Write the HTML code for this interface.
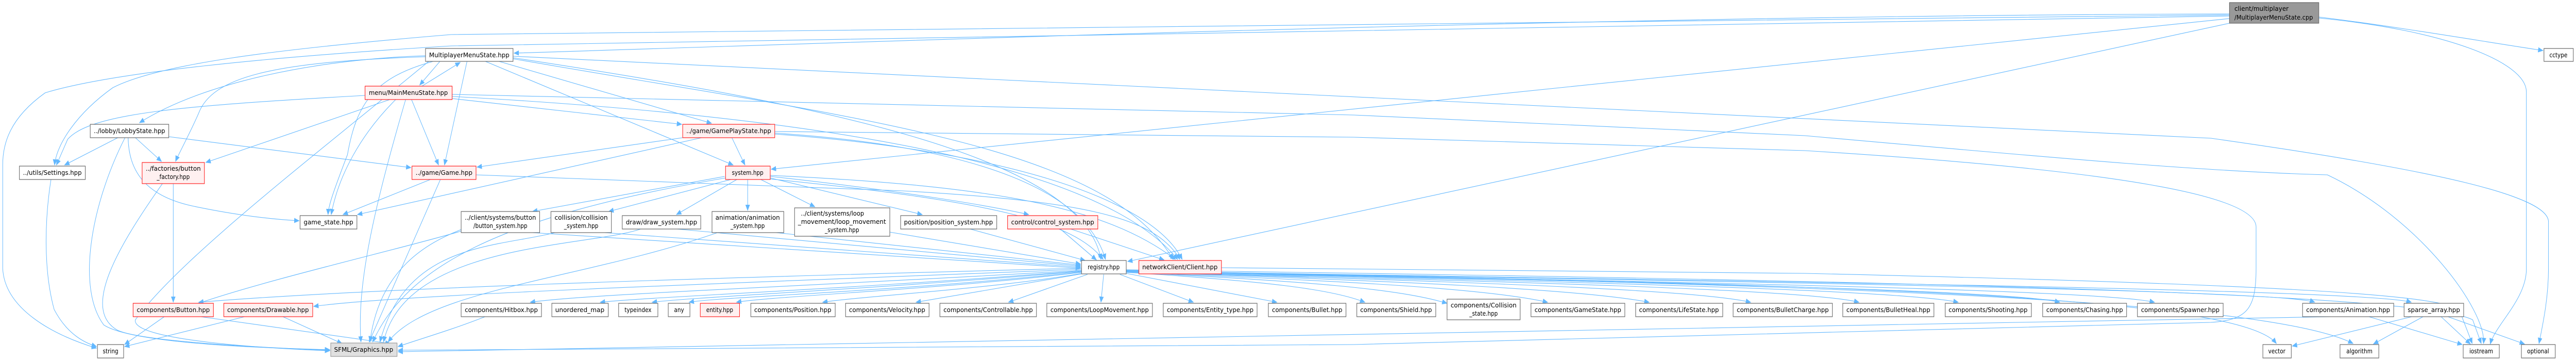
<!DOCTYPE html>
<html><head><meta charset="utf-8"><style>
html,body{margin:0;padding:0;background:#fff;overflow:hidden;width:100%;height:696px}
svg{display:block;width:100vw;height:696px}
text{font-family:"DejaVu Sans","Liberation Sans",sans-serif;font-size:12px;fill:#000}
.e{fill:none;stroke:#63b8ff;stroke-width:1.1}
.n{fill:#fff;stroke:#666;stroke-width:1.2}
.r{fill:#fff0f0;stroke:#ff2020;stroke-width:1.2}
.g{fill:#e0e0e0;stroke:#999;stroke-width:1.2}
.root{fill:#999;stroke:#666;stroke-width:1.2}
</style></head><body>
<svg viewBox="0 0 5709 696" preserveAspectRatio="none" xmlns="http://www.w3.org/2000/svg">
<defs><marker id="a" markerWidth="12" markerHeight="10" refX="11" refY="5" orient="auto" markerUnits="userSpaceOnUse"><path d="M0,0 L12,5 L0,10 z" fill="#63b8ff"/></marker></defs>
<g class="e" marker-end="url(#a)">
<path d="M4941,27 C3500,30 2000,80 1139,103"/>
<path d="M4941,29 L1000,67 C600,96 350,125 250,170 C170,220 125,280 121,320"/>
<path d="M4941,31 L1000,89 C600,110 250,140 100,180 C20,230 6,280 6,320 L6,520 C10,600 120,650 214,675"/>
<path d="M4941,45 L2499,507"/>
<path d="M4941,36 L1709,328"/>
<path d="M5139,33 C5300,50 5500,80 5636,98"/>
<path d="M5139,35 C5416,58 5599,120 5599,178 L5599,522 C5599,580 5530,630 5519,667"/>
<path d="M1137,109 L4900,268 C5400,330 5648,380 5648,430 L5648,520 C5648,580 5635,630 5627,666"/>
<path d="M943,108 C700,115 450,160 309,238"/>
<path d="M943,110 C600,120 470,150 440,220 C420,260 395,300 389,313"/>
<path d="M960,119 C830,150 790,200 770,300 C735,380 728,400 727,416"/>
<path d="M950,119 C700,300 400,500 300,620 C290,660 600,676 731,680"/>
<path d="M975,119 L930,165"/>
<path d="M935,167 L1020,121"/>
<path d="M1035,119 L985,320"/>
<path d="M1102,118 L1577,239"/>
<path d="M1073,118 L1625,320"/>
<path d="M1137,112 C1800,200 2400,300 2440,503"/>
<path d="M1137,114 C1900,230 2450,280 2600,503"/>
<path d="M1002,183 L3000,223 L4000,263 C4600,310 4900,333 5158,339 C5364,424 5511,603 5504,666"/>
<path d="M809,185 C400,205 200,220 150,270 L125,320"/>
<path d="M864,193 L456,315"/>
<path d="M877,193 C800,260 750,340 734,416"/>
<path d="M899,193 C830,400 790,550 800,663"/>
<path d="M912,193 L972,320"/>
<path d="M1002,191 L1511,241"/>
<path d="M1002,187 C1900,230 2450,330 2610,503"/>
<path d="M261,267 L143,320"/>
<path d="M300,267 L358,313"/>
<path d="M284,267 C285,330 320,380 430,400 C540,420 620,426 663,428"/>
<path d="M277,267 C200,400 170,560 230,630 C300,670 650,676 731,678"/>
<path d="M374,265 L911,325"/>
<path d="M384,356 L384,586"/>
<path d="M360,356 C260,480 180,600 260,640 C320,665 650,676 731,679"/>
<path d="M113,348 C100,420 95,520 120,600 C150,650 190,665 214,672"/>
<path d="M954,348 L760,416"/>
<path d="M976,348 L818,663"/>
<path d="M1055,339 L2000,370 C2400,390 2560,420 2615,503"/>
<path d="M1513,267 L1057,324"/>
<path d="M1555,267 L792,416"/>
<path d="M1622,267 L1651,320"/>
<path d="M1717,255 L3000,266 L4000,292 C4700,330 5000,380 5000,440 L5000,520 C5000,600 4980,620 4900,625 L3000,668 L882,679"/>
<path d="M1717,258 C2100,280 2400,350 2450,503"/>
<path d="M1717,260 C2200,290 2550,380 2620,503"/>
<path d="M1606,342 L1180,410"/>
<path d="M1620,348 L1349,410"/>
<path d="M1633,348 L1499,416"/>
<path d="M1657,348 L1657,408"/>
<path d="M1686,348 L1806,401"/>
<path d="M1707,345 L2044,416"/>
<path d="M1707,342 C2000,370 2200,400 2280,416"/>
<path d="M1707,347 C2200,390 2380,430 2445,503"/>
<path d="M1707,340 C2200,360 2450,400 2605,503"/>
<path d="M1608,345 C1100,420 900,520 826,663"/>
<path d="M1022,445 C950,470 840,520 820,663"/>
<path d="M1022,448 C900,480 600,540 440,588"/>
<path d="M1180,451 L2395,520"/>
<path d="M1230,451 C1100,480 900,470 842,663"/>
<path d="M1340,451 L2395,518"/>
<path d="M1420,444 C1300,480 900,470 850,663"/>
<path d="M1500,444 L2395,516"/>
<path d="M1590,451 C1300,540 950,560 860,663"/>
<path d="M1720,451 L2395,514"/>
<path d="M1972,450 L2395,512"/>
<path d="M2150,444 L2405,505"/>
<path d="M2350,444 L2430,504"/>
<path d="M2373,444 L2580,504"/>
<path d="M2397,520 C1500,540 800,560 440,586"/>
<path d="M2397,522 C1600,550 900,570 695,594"/>
<path d="M2397,524 C1800,555 1300,570 1175,586"/>
<path d="M2397,525 C1900,560 1450,575 1330,586"/>
<path d="M2397,526 C1950,560 1550,575 1445,586"/>
<path d="M2397,527 C2000,565 1600,575 1527,586"/>
<path d="M2397,528 C2100,560 1700,575 1632,586"/>
<path d="M2397,530 C2200,560 1900,575 1823,586"/>
<path d="M2397,531 L2030,586"/>
<path d="M2410,532 L2235,586"/>
<path d="M2446,532 L2440,586"/>
<path d="M2482,532 L2645,586"/>
<path d="M2496,530 L2830,586"/>
<path d="M2496,528 C2800,545 2950,560 3025,586"/>
<path d="M2496,528 C2900,545 3100,560 3207,588"/>
<path d="M2496,528 C3000,545 3300,560 3430,586"/>
<path d="M2496,527 C3100,545 3500,560 3655,586"/>
<path d="M2496,527 C3200,545 3750,560 3880,586"/>
<path d="M2496,527 C3300,545 4000,560 4120,586"/>
<path d="M2496,526 C3400,545 4200,560 4340,586"/>
<path d="M2496,526 C3500,545 4450,560 4565,586"/>
<path d="M2496,526 C3600,545 4650,560 4775,586"/>
<path d="M2496,525 C3700,545 5050,560 5130,586"/>
<path d="M2496,525 C3800,545 5250,560 5344,586"/>
<path d="M2496,524 C3800,550 4950,560 5045,666"/>
<path d="M2496,524 C3800,550 5000,570 5215,666"/>
<path d="M2496,523 C3800,540 5350,560 5480,620 L5499,666"/>
<path d="M2707,519 L4000,530 C5000,550 5400,570 5450,600 L5479,666"/>
<path d="M1075,614 C1000,640 920,660 882,672"/>
<path d="M445,614 L865,666"/>
<path d="M364,614 L276,668"/>
<path d="M542,614 L276,672"/>
<path d="M627,614 L758,666"/>
<path d="M5165,614 C5000,625 3000,650 882,682"/>
<path d="M5250,614 L5457,668"/>
<path d="M5345,614 L5080,671"/>
<path d="M5370,614 L5260,667"/>
<path d="M5410,614 L5475,667"/>
<path d="M5425,614 L5595,667"/>
</g>
<g>
<rect class="root" x="4941" y="5" width="198" height="40"/><text x="4952" y="21" textLength="120" lengthAdjust="spacingAndGlyphs">client/multiplayer</text><text x="4952" y="38" textLength="174" lengthAdjust="spacingAndGlyphs">/MultiplayerMenuState.cpp</text>
<rect class="n" x="943" y="94" width="194" height="25"/><text x="1040" y="111" text-anchor="middle" textLength="178" lengthAdjust="spacingAndGlyphs">MultiplayerMenuState.hpp</text>
<rect class="n" x="5638" y="94" width="65" height="25"/><text x="5670" y="111" text-anchor="middle">cctype</text>
<rect class="r" x="809" y="167" width="193" height="26"/><text x="905" y="184" text-anchor="middle" textLength="175" lengthAdjust="spacingAndGlyphs">menu/MainMenuState.hpp</text>
<rect class="n" x="200" y="241" width="174" height="26"/><text x="287" y="258" text-anchor="middle" textLength="158" lengthAdjust="spacingAndGlyphs">../lobby/LobbyState.hpp</text>
<rect class="r" x="1513" y="241" width="204" height="26"/><text x="1615" y="258" text-anchor="middle" textLength="188" lengthAdjust="spacingAndGlyphs">../game/GamePlayState.hpp</text>
<rect class="n" x="43" y="322" width="146" height="26"/><text x="116" y="339" text-anchor="middle" textLength="130" lengthAdjust="spacingAndGlyphs">../utils/Settings.hpp</text>
<rect class="r" x="315" y="315" width="138" height="41"/><text x="384" y="331" text-anchor="middle" textLength="122" lengthAdjust="spacingAndGlyphs">../factories/button</text><text x="384" y="347" text-anchor="middle">_factory.hpp</text>
<rect class="r" x="913" y="322" width="142" height="26"/><text x="984" y="339" text-anchor="middle" textLength="126" lengthAdjust="spacingAndGlyphs">../game/Game.hpp</text>
<rect class="r" x="1608" y="322" width="99" height="26"/><text x="1657" y="339" text-anchor="middle">system.hpp</text>
<rect class="n" x="665" y="418" width="126" height="26"/><text x="728" y="435" text-anchor="middle" textLength="110" lengthAdjust="spacingAndGlyphs">game_state.hpp</text>
<rect class="n" x="1022" y="410" width="174" height="41"/><text x="1109" y="426" text-anchor="middle" textLength="158" lengthAdjust="spacingAndGlyphs">../client/systems/button</text><text x="1109" y="442" text-anchor="middle">/button_system.hpp</text>
<rect class="n" x="1221" y="410" width="134" height="41"/><text x="1288" y="426" text-anchor="middle" textLength="118" lengthAdjust="spacingAndGlyphs">collision/collision</text><text x="1288" y="442" text-anchor="middle">_system.hpp</text>
<rect class="n" x="1379" y="418" width="174" height="26"/><text x="1466" y="435" text-anchor="middle" textLength="158" lengthAdjust="spacingAndGlyphs">draw/draw_system.hpp</text>
<rect class="n" x="1578" y="410" width="159" height="41"/><text x="1657" y="426" text-anchor="middle" textLength="143" lengthAdjust="spacingAndGlyphs">animation/animation</text><text x="1657" y="442" text-anchor="middle">_system.hpp</text>
<rect class="n" x="1761" y="403" width="211" height="55"/><text x="1775" y="418" textLength="140" lengthAdjust="spacingAndGlyphs">../client/systems/loop</text><text x="1866" y="434" text-anchor="middle" textLength="195" lengthAdjust="spacingAndGlyphs">_movement/loop_movement</text><text x="1866" y="450" text-anchor="middle">_system.hpp</text>
<rect class="n" x="1996" y="418" width="213" height="26"/><text x="2102" y="435" text-anchor="middle" textLength="197" lengthAdjust="spacingAndGlyphs">position/position_system.hpp</text>
<rect class="r" x="2233" y="418" width="200" height="26"/><text x="2333" y="435" text-anchor="middle" textLength="184" lengthAdjust="spacingAndGlyphs">control/control_system.hpp</text>
<rect class="n" x="2397" y="505" width="99" height="26"/><text x="2446" y="522" text-anchor="middle">registry.hpp</text>
<rect class="r" x="2524" y="505" width="183" height="26"/><text x="2615" y="522" text-anchor="middle" textLength="167" lengthAdjust="spacingAndGlyphs">networkClient/Client.hpp</text>
<rect class="r" x="295" y="588" width="178" height="26"/><text x="384" y="605" text-anchor="middle" textLength="162" lengthAdjust="spacingAndGlyphs">components/Button.hpp</text>
<rect class="r" x="496" y="588" width="197" height="26"/><text x="594" y="605" text-anchor="middle" textLength="181" lengthAdjust="spacingAndGlyphs">components/Drawable.hpp</text>
<rect class="n" x="1022" y="588" width="178" height="26"/><text x="1111" y="605" text-anchor="middle" textLength="162" lengthAdjust="spacingAndGlyphs">components/Hitbox.hpp</text>
<rect class="n" x="1223" y="588" width="125" height="26"/><text x="1285" y="605" text-anchor="middle" textLength="109" lengthAdjust="spacingAndGlyphs">unordered_map</text>
<rect class="n" x="1371" y="588" width="87" height="26"/><text x="1414" y="605" text-anchor="middle">typeindex</text>
<rect class="n" x="1481" y="588" width="48" height="26"/><text x="1505" y="605" text-anchor="middle">any</text>
<rect class="r" x="1552" y="588" width="87" height="26"/><text x="1595" y="605" text-anchor="middle">entity.hpp</text>
<rect class="n" x="1664" y="588" width="187" height="26"/><text x="1757" y="605" text-anchor="middle" textLength="171" lengthAdjust="spacingAndGlyphs">components/Position.hpp</text>
<rect class="n" x="1874" y="588" width="185" height="26"/><text x="1966" y="605" text-anchor="middle" textLength="169" lengthAdjust="spacingAndGlyphs">components/Velocity.hpp</text>
<rect class="n" x="2083" y="588" width="214" height="26"/><text x="2190" y="605" text-anchor="middle" textLength="198" lengthAdjust="spacingAndGlyphs">components/Controllable.hpp</text>
<rect class="n" x="2320" y="588" width="234" height="26"/><text x="2437" y="605" text-anchor="middle" textLength="218" lengthAdjust="spacingAndGlyphs">components/LoopMovement.hpp</text>
<rect class="n" x="2578" y="588" width="208" height="26"/><text x="2682" y="605" text-anchor="middle" textLength="192" lengthAdjust="spacingAndGlyphs">components/Entity_type.hpp</text>
<rect class="n" x="2811" y="588" width="172" height="26"/><text x="2897" y="605" text-anchor="middle" textLength="156" lengthAdjust="spacingAndGlyphs">components/Bullet.hpp</text>
<rect class="n" x="3007" y="588" width="175" height="26"/><text x="3094" y="605" text-anchor="middle" textLength="159" lengthAdjust="spacingAndGlyphs">components/Shield.hpp</text>
<rect class="n" x="3207" y="580" width="162" height="40"/><text x="3288" y="596" text-anchor="middle" textLength="146" lengthAdjust="spacingAndGlyphs">components/Collision</text><text x="3288" y="612" text-anchor="middle">_state.hpp</text>
<rect class="n" x="3393" y="588" width="208" height="26"/><text x="3497" y="605" text-anchor="middle" textLength="192" lengthAdjust="spacingAndGlyphs">components/GameState.hpp</text>
<rect class="n" x="3625" y="588" width="193" height="26"/><text x="3721" y="605" text-anchor="middle" textLength="177" lengthAdjust="spacingAndGlyphs">components/LifeState.hpp</text>
<rect class="n" x="3841" y="588" width="220" height="26"/><text x="3951" y="605" text-anchor="middle" textLength="204" lengthAdjust="spacingAndGlyphs">components/BulletCharge.hpp</text>
<rect class="n" x="4084" y="588" width="202" height="26"/><text x="4185" y="605" text-anchor="middle" textLength="186" lengthAdjust="spacingAndGlyphs">components/BulletHeal.hpp</text>
<rect class="n" x="4311" y="588" width="191" height="26"/><text x="4406" y="605" text-anchor="middle" textLength="175" lengthAdjust="spacingAndGlyphs">components/Shooting.hpp</text>
<rect class="n" x="4527" y="588" width="186" height="26"/><text x="4620" y="605" text-anchor="middle" textLength="170" lengthAdjust="spacingAndGlyphs">components/Chasing.hpp</text>
<rect class="n" x="4737" y="588" width="190" height="26"/><text x="4832" y="605" text-anchor="middle" textLength="174" lengthAdjust="spacingAndGlyphs">components/Spawner.hpp</text>
<rect class="n" x="5103" y="588" width="202" height="26"/><text x="5204" y="605" text-anchor="middle" textLength="186" lengthAdjust="spacingAndGlyphs">components/Animation.hpp</text>
<rect class="n" x="5328" y="588" width="132" height="26"/><text x="5394" y="605" text-anchor="middle" textLength="116" lengthAdjust="spacingAndGlyphs">sparse_array.hpp</text>
<rect class="n" x="216" y="668" width="58" height="26"/><text x="245" y="685" text-anchor="middle">string</text>
<rect class="g" x="733" y="665" width="147" height="26"/><text x="806" y="682" text-anchor="middle" textLength="131" lengthAdjust="spacingAndGlyphs">SFML/Graphics.hpp</text>
<rect class="n" x="5015" y="668" width="63" height="26"/><text x="5046" y="685" text-anchor="middle">vector</text>
<rect class="n" x="5186" y="668" width="86" height="26"/><text x="5229" y="685" text-anchor="middle">algorithm</text>
<rect class="n" x="5459" y="668" width="80" height="26"/><text x="5499" y="685" text-anchor="middle">iostream</text>
<rect class="n" x="5588" y="668" width="75" height="26"/><text x="5625" y="685" text-anchor="middle">optional</text>
</g>
</svg>
</body></html>
